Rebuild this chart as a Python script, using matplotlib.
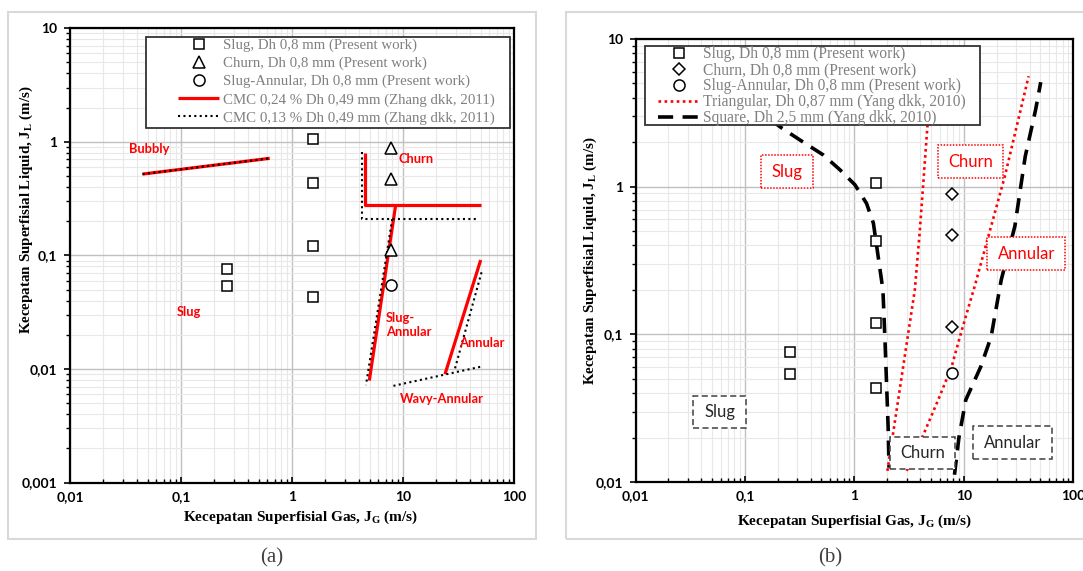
import numpy as np
import matplotlib
matplotlib.use("Agg")
import matplotlib.pyplot as plt
from matplotlib.patches import Rectangle
from matplotlib.transforms import ScaledTranslation

# Present work, Dh 0,8 mm (same points on both panels)
jg_slug = [0.26, 0.26, 1.56, 1.56, 1.56, 1.56]
jl_slug = [0.076, 0.054, 1.06, 0.43, 0.12, 0.043]
jg_churn = [7.8, 7.8, 7.8]
jl_churn = [0.89, 0.47, 0.112]
jg_slug_ann = [7.8]
jl_slug_ann = [0.055]

# Zhang dkk 2011, CMC 0,24 %
z24_bubbly_x = [0.045, 0.63]
z24_bubbly_y = [0.52, 0.716]
z24_churn_x = [4.55, 4.55, 50.8]
z24_churn_y = [0.80, 0.28, 0.28]
z24_sa_x = [8.6, 4.97]
z24_sa_y = [0.28, 0.0079]
z24_ann_x = [50.1, 23.9]
z24_ann_y = [0.091, 0.009]

# Zhang dkk 2011, CMC 0,13 %
z13_bubbly_x = [0.045, 0.63]
z13_bubbly_y = [0.52, 0.716]
z13_churn_x = [4.3, 4.3, 45.7]
z13_churn_y = [0.82, 0.209, 0.209]
z13_sa_x = [8.0, 4.64]
z13_sa_y = [0.209, 0.0072]
z13_ann_x = [51, 29.4]
z13_ann_y = [0.071, 0.0101]
z13_wavy_x = [8.2, 51]
z13_wavy_y = [0.0071, 0.0105]

# Yang dkk 2010
tri1_x = [2.0, 3.56, 3.96, 4.65, 5.05]
tri1_y = [0.0119, 0.2, 0.51, 2.62, 6.3]
tri2_x = [3.0, 4.25, 5.82, 7.7, 9.57, 12.5, 23.6, 39]
tri2_y = [0.0119, 0.0208, 0.036, 0.060, 0.107, 0.21, 1.17, 5.6]
sq1_x = [0.17, 0.216, 0.318, 0.519, 0.738, 1.01, 1.29, 1.49, 1.82, 1.91, 2.03, 2.07]
sq1_y = [2.85, 2.5, 2.07, 1.64, 1.30, 1.03, 0.77, 0.565, 0.2, 0.083, 0.0237, 0.0125]
sq2_x = [8.2, 9.0, 10.4, 14.2, 17.7, 21.9, 29.2, 36.3, 45.1, 50.3]
sq2_y = [0.0112, 0.02, 0.036, 0.06, 0.096, 0.233, 0.54, 1.6, 3.3, 5.1]

# region names
left_labels = ['Bubbly', 'Churn', 'Slug', 'Slug-\nAnnular', 'Annular', 'Wavy-Annular']
left_label_x = [0.034, 9.1, 0.091, 7.0, 32, 9.3]
left_label_y = [0.86, 0.71, 0.032, 0.0244, 0.0169, 0.0054]

yang_labels = ['Slug', 'Churn', 'Annular']
yang_label_x = [0.242, 11.5, 37.2]
yang_label_y = [1.26, 1.47, 0.352]
yang_box_px = [(52, 33), (65, 33), (78, 33)]

pw_labels = ['Slug', 'Churn', 'Annular']
pw_label_x = [0.0588, 4.22, 27.9]
pw_label_y = [0.0298, 0.0157, 0.0185]
pw_box_px = [(53, 32), (65, 32), (79, 33)]

x_ticks = [0.01, 0.1, 1, 10, 100]
x_ticklabels = ['0,01', '0,1', '1', '10', '100']
ya_ticks = [0.001, 0.01, 0.1, 1, 10]
ya_ticklabels = ['0,001', '0,01', '0,1', '1', '10']
yb_ticks = [0.01, 0.1, 1, 10]
yb_ticklabels = ['0,01', '0,1', '1', '10']

plt.rcParams['font.family'] = ['Lato', 'DejaVu Sans']
plt.rcParams['mathtext.fontset'] = 'custom'
plt.rcParams['mathtext.rm'] = 'Liberation Serif:bold'
plt.rcParams['mathtext.it'] = 'Liberation Serif:bold'
plt.rcParams['mathtext.bf'] = 'Liberation Serif:bold'

W, H = 1083, 571
fig = plt.figure(figsize=(W / 100, H / 100), dpi=100)


def fr(x0, y0, x1, y1):
    # pixel box -> figure fraction rect
    return [x0 / W, 1 - y1 / H, (x1 - x0) / W, (y1 - y0) / H]


# gray panel frames
for r in [fr(7.6, 12, 536, 539), fr(565.6, 12, 1095, 539)]:
    fig.patches.append(Rectangle((r[0], r[1]), r[2], r[3], transform=fig.transFigure,
                                 fill=False, ec='#d9d9d9', lw=1.5))

axa = fig.add_axes(fr(70, 28.3, 514, 482.5))
axb = fig.add_axes(fr(635.5, 39, 1073.4, 482))


def style(ax, yticks, yticklabels):
    ax.set_xscale('log')
    ax.set_yscale('log')
    ax.set_xlim(x_ticks[0], x_ticks[-1])
    ax.set_ylim(yticks[0], yticks[-1])
    ax.set_xticks(x_ticks, labels=x_ticklabels, fontweight='bold', fontsize=10)
    ax.set_yticks(yticks, labels=yticklabels, fontweight='bold', fontsize=10)
    ax.xaxis.set_minor_locator(matplotlib.ticker.LogLocator(10, subs=np.arange(2, 10), numticks=20))
    ax.yaxis.set_minor_locator(matplotlib.ticker.LogLocator(10, subs=np.arange(2, 10), numticks=20))
    ax.xaxis.set_minor_formatter(matplotlib.ticker.NullFormatter())
    ax.yaxis.set_minor_formatter(matplotlib.ticker.NullFormatter())
    ax.grid(True, which='minor', color='#e8e8e8', lw=0.8)
    ax.grid(True, which='major', color='#c0c0c0', lw=1.0)
    ax.set_axisbelow(True)
    ax.tick_params(axis='x', which='both', direction='in', pad=6)
    ax.tick_params(axis='y', which='both', direction='out', pad=5)
    ax.tick_params(which='major', length=4, width=1.2)
    ax.tick_params(which='minor', length=3, width=1.0)
    for s in ax.spines.values():
        s.set_linewidth(1.6)
    ax.set_xlabel('Kecepatan Superfisial Gas, J$_{\\mathrm{G}}$ (m/s)', family='Liberation Serif',
                  fontweight='bold', fontsize=11)
    ax.set_ylabel('Kecepatan Superfisial Liquid, J$_{\\mathrm{L}}$ (m/s)', family='Liberation Serif',
                  fontweight='bold', fontsize=10.8)


style(axa, ya_ticks, ya_ticklabels)
style(axb, yb_ticks, yb_ticklabels)
axa.xaxis.set_label_coords(0.52, -0.058)
axa.yaxis.set_label_coords(-0.079, 0.60)
axb.xaxis.set_label_coords(0.5, -0.07)
axb.yaxis.set_label_coords(-0.083, 0.5)

mk = dict(linestyle='none', mfc='white', mec='black', mew=1.1, zorder=3)
red_line = dict(color='red', lw=2.3, solid_capstyle='butt', zorder=2)
blk_dot = dict(color='black', lw=1.5, linestyle=(0, (1, 1.6)), zorder=2.5)

# ---- panel (a)
axa.plot(jg_slug, jl_slug, marker='s', ms=7.5, label='Slug, Dh 0,8 mm (Present work)', **mk)
axa.plot(jg_churn, jl_churn, marker='^', ms=8, label='Churn, Dh 0,8 mm (Present work)', **mk)
axa.plot(jg_slug_ann, jl_slug_ann, marker='o', ms=8, label='Slug-Annular, Dh 0,8 mm (Present work)', **mk)
axa.plot(z24_bubbly_x, z24_bubbly_y, label='CMC 0,24 % Dh 0,49 mm (Zhang dkk, 2011)', **red_line)
axa.plot(z24_churn_x, z24_churn_y, **red_line)
axa.plot(z24_sa_x, z24_sa_y, **red_line)
axa.plot(z24_ann_x, z24_ann_y, **red_line)
axa.plot(z13_bubbly_x, z13_bubbly_y, label='CMC 0,13 % Dh 0,49 mm (Zhang dkk, 2011)', **blk_dot)
axa.plot(z13_churn_x, z13_churn_y, **blk_dot)
axa.plot(z13_sa_x, z13_sa_y, **blk_dot)
axa.plot(z13_ann_x, z13_ann_y, **blk_dot)
axa.plot(z13_wavy_x, z13_wavy_y, **blk_dot)

for t, x, y in zip(left_labels, left_label_x, left_label_y):
    axa.text(x, y, t, color='red', fontweight='bold', fontsize=9.3, ha='left', va='center',
             linespacing=1.15, zorder=4)

# ---- panel (b)
axb.plot(jg_slug, jl_slug, marker='s', ms=7.5, label='Slug, Dh 0,8 mm (Present work)', **mk)
axb.plot(jg_churn, jl_churn, marker='D', ms=6, label='Churn, Dh 0,8 mm (Present work)', **mk)
axb.plot(jg_slug_ann, jl_slug_ann, marker='o', ms=8, label='Slug-Annular, Dh 0,8 mm (Present work)', **mk)
tri = dict(color='red', lw=1.9, linestyle=(0, (1, 1.3)), zorder=2)
sqd = dict(color='black', lw=2.6, linestyle=(0, (4.2, 2.6)), zorder=2)
axb.plot(tri1_x, tri1_y, label='Triangular, Dh 0,87 mm (Yang dkk, 2010)', **tri)
axb.plot(tri2_x, tri2_y, **tri)
axb.plot(sq1_x, sq1_y, label='Square, Dh 2,5 mm (Yang dkk, 2010)', **sqd)
axb.plot(sq2_x, sq2_y, **sqd)


def box_label(ax, x, y, text, wh, color, ec, ls):
    w, h = wh
    tr = fig.dpi_scale_trans + ScaledTranslation(x, y, ax.transData)
    ax.add_patch(Rectangle((-w / 200, -h / 200), w / 100, h / 100, transform=tr, fc='white',
                           ec=ec, ls=ls, lw=1.1, zorder=4, clip_on=False))
    ax.text(x, y, text, ha='center', va='center', color=color, fontsize=12, zorder=4.5)


for t, x, y, wh in zip(yang_labels, yang_label_x, yang_label_y, yang_box_px):
    box_label(axb, x, y, t, wh, 'red', 'red', (0, (1, 1)))
for t, x, y, wh in zip(pw_labels, pw_label_x, pw_label_y, pw_box_px):
    box_label(axb, x, y, t, wh, '#262626', '#404040', (0, (4, 2.2)))


def legend_box(ax, box, anchor, fs, spacing):
    r = fr(*box)
    ax.add_patch(Rectangle((r[0], r[1]), r[2], r[3], transform=fig.transFigure, fc='white',
                           ec='#333333', lw=1.3, zorder=4.8, clip_on=False))
    leg = ax.legend(loc='upper left', bbox_to_anchor=(anchor[0] / W, 1 - anchor[1] / H),
                    bbox_transform=fig.transFigure, frameon=False, borderpad=0, borderaxespad=0,
                    handlelength=41 / (fs * 100 / 72), handletextpad=0.22, labelspacing=spacing,
                    prop={'family': 'Liberation Serif', 'size': fs}, labelcolor='#808080')
    leg.set_zorder(5)


legend_box(axa, (146.4, 36.7, 510, 127.7), (178.4, 38.5), 10.7, 0.31)
legend_box(axb, (645, 45.7, 980, 125), (658.2, 46), 11.2, 0.0)

fig.text(272 / W, 1 - 558 / H, '(a)', ha='center', va='center', fontsize=15,
         family='Liberation Serif', color='#404040')
fig.text(830 / W, 1 - 558 / H, '(b)', ha='center', va='center', fontsize=15,
         family='Liberation Serif', color='#404040')

fig.savefig('out.png', dpi=100)
